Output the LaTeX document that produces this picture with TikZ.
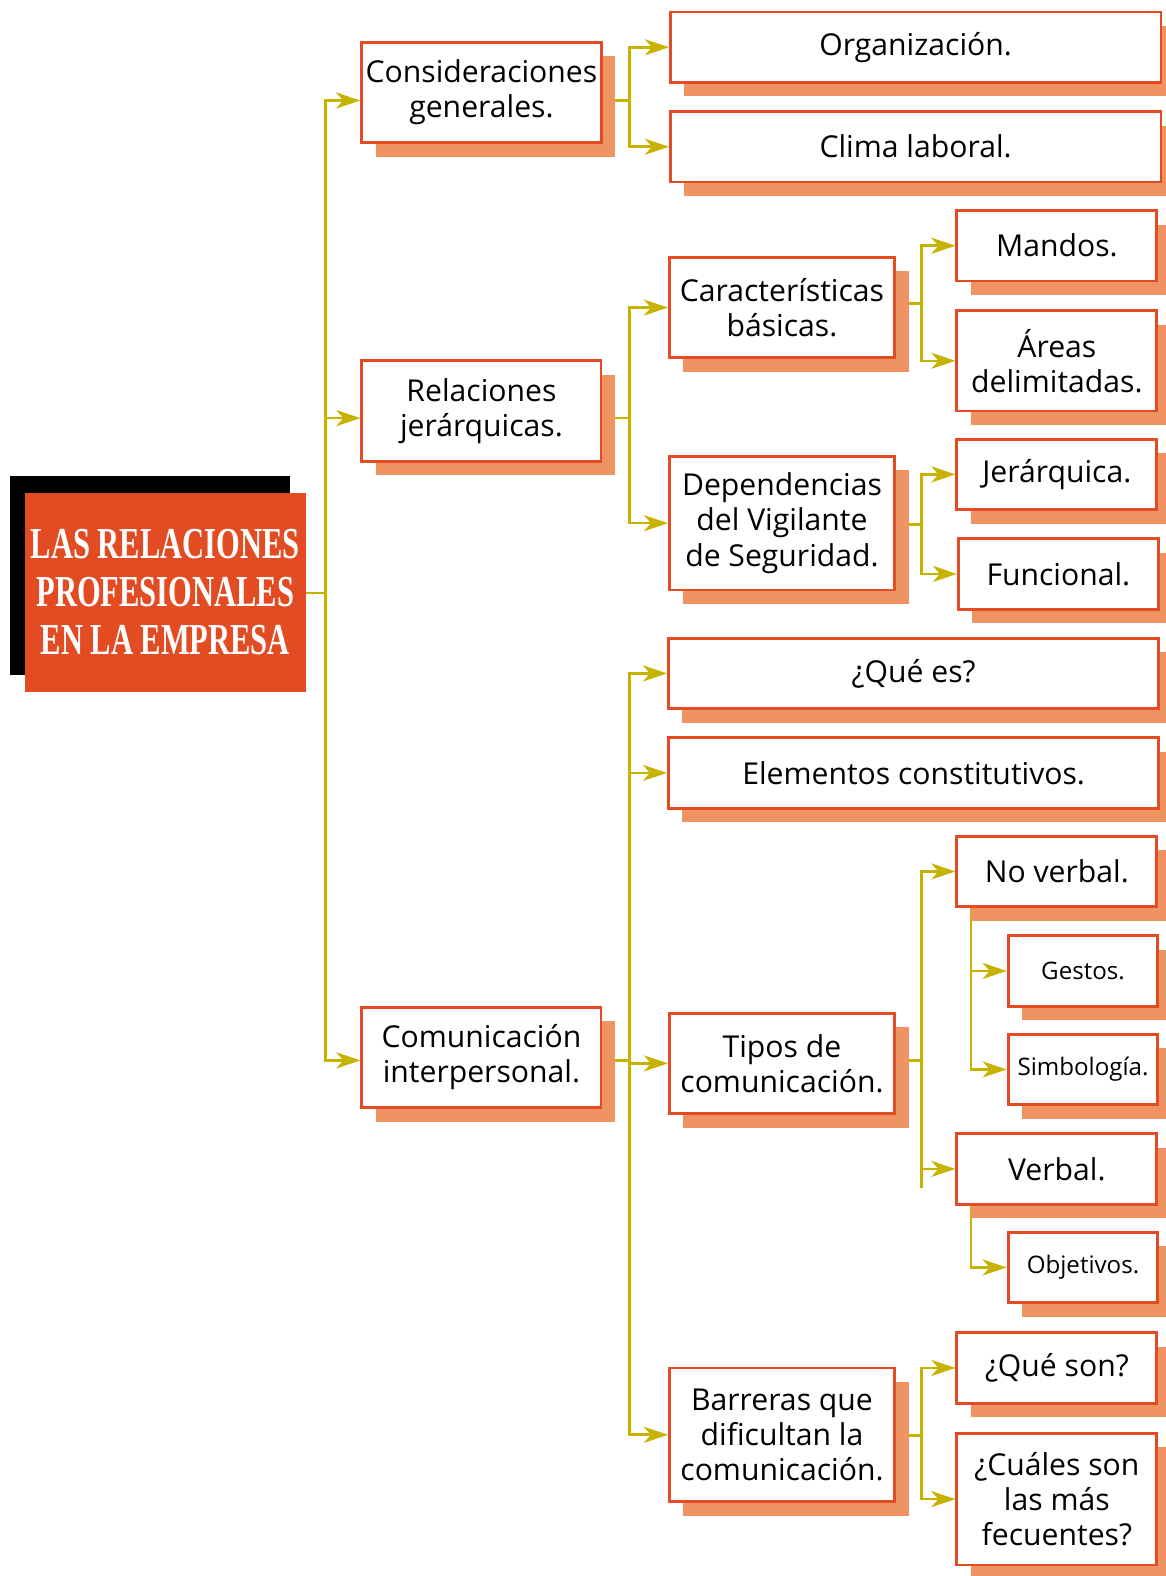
\documentclass[tikz,border=0pt]{standalone}
\usepackage{fontspec}
\setmainfont{Open Sans}
\newfontfamily\titlefont{Liberation Serif}[FakeStretch=0.69]
\usepackage{tikz}
\usetikzlibrary{arrows.meta,positioning,shadows,backgrounds}

\definecolor{boxred}{RGB}{227,75,35}
\definecolor{shade}{RGB}{240,147,99}
\definecolor{linkc}{RGB}{200,178,0}

\begin{document}
\begin{tikzpicture}[
x=0.5pt, y=-0.5pt,
box/.style={draw=boxred, line width=1.4pt, fill=white, align=center, inner sep=2pt,
  font=\fontsize{15}{17.5}\selectfont,
  drop shadow={shadow xshift=7pt, shadow yshift=-7pt, fill=shade, opacity=1}},
lone/.style={box, minimum width=119pt, minimum height=50pt},
wide/.style={box, minimum width=244pt, minimum height=35pt},
mid/.style={box, minimum width=112pt, minimum height=50pt},
leaf/.style={box, minimum width=99.5pt, minimum height=35pt},
sub/.style={box, minimum width=74.5pt, minimum height=35pt, font=\fontsize{12}{14}\selectfont},
link/.style={draw=linkc, line width=1.3pt},
arr/.style={link, -{Stealth[length=12pt, width=8pt, inset=3.5pt]}}
]
\useasboundingbox (0,0) rectangle (1160,1568);

% title
\node[fill=boxred, minimum width=139.5pt, minimum height=99pt, inner sep=0pt, align=center,
  text=white, font=\titlefont\bfseries\fontsize{22}{24}\selectfont,
  drop shadow={shadow xshift=-7.5pt, shadow yshift=8pt, fill=black, opacity=1}]
  (title) at (164.5,589) {LAS RELACIONES\\PROFESIONALES\\EN LA EMPRESA};

% first level
\node[lone] (cons) at (479,92) {Consideraciones\\generales.};
\node[lone] (rel) at (479,409) {Relaciones\\jerárquicas.};
\node[lone] (comm) at (479,1052) {Comunicación\\interpersonal.};

% second level
\node[wide] (org) at (911,47) {Organización.};
\node[wide] (clima) at (911,146) {Clima laboral.};
\node[mid] (carac) at (778,306) {Características\\básicas.};
\node[mid, minimum height=66.5pt] (dep) at (778,520.5) {Dependencias\\del Vigilante\\de Seguridad.};
\node[wide] (quees) at (909,670) {¿Qué es?};
\node[wide] (elem) at (909,769) {Elementos constitutivos.};
\node[mid] (tipos) at (778,1058) {Tipos de\\comunicación.};
\node[mid, minimum height=66.5pt] (barr) at (778,1427.5) {Barreras que\\dificultan la\\comunicación.};

% third level
\node[leaf] (mandos) at (1051.5,244.5) {Mandos.};
\node[leaf, minimum height=50pt] (areas) at (1051.5,359) {Áreas\\delimitadas.};
\node[leaf] (jer) at (1051.5,472) {Jerárquica.};
\node[leaf] (func) at (1053,571) {Funcional.};
\node[leaf] (noverb) at (1051.5,867) {No verbal.};
\node[leaf] (verbal) at (1051.5,1163) {Verbal.};
\node[leaf] (queson) at (1051.5,1361) {¿Qué son?};
\node[leaf, minimum height=65.5pt] (cuales) at (1051.5,1491.5) {¿Cuáles son\\las más\\fecuentes?};

% fourth level
\node[sub] (gestos) at (1077.5,966) {Gestos.};
\node[sub] (simb) at (1077.5,1064) {Simbología.};
\node[sub] (obj) at (1077.5,1261) {Objetivos.};

% junctions
\coordinate (j0) at (324,590);
\coordinate (j1) at (626,100);
\coordinate (j2) at (626,416);
\coordinate (j3) at (626,1055);
\coordinate (j4) at (917,302);
\coordinate (j5) at (917,522);
\coordinate (j6) at (917,1055);
\coordinate (j6end) at (917,1182);
\coordinate (j7) at (917,1428);
\coordinate (j8) at (966,900);
\coordinate (j9) at (966,1196);

\begin{scope}[on background layer]
\draw[link] (title.east |- j0) -- (j0);
\draw[arr] (j0) |- (cons.west |- j1);
\draw[arr] (j0) |- (rel.west |- j2);
\draw[arr] (j0) |- (comm.west |- j3);

\draw[link] (cons.east |- j1) -- (j1);
\draw[arr] (j1) |- (org.west);
\draw[arr] (j1) |- (clima.west);

\draw[link] (rel.east |- j2) -- (j2);
\draw[arr] (j2) |- (carac.west);
\draw[arr] (j2) |- (dep.west);

\draw[link] (comm.east |- j3) -- (j3);
\draw[arr] (j3) |- (quees.west);
\draw[arr] (j3) |- (elem.west);
\draw[arr] (j3) |- (tipos.west);
\draw[arr] (j3) |- (barr.west);

\draw[link] (carac.east |- j4) -- (j4);
\draw[arr] (j4) |- (mandos.west);
\draw[arr] (j4) |- (areas.west);

\draw[link] (dep.east |- j5) -- (j5);
\draw[arr] (j5) |- (jer.west);
\draw[arr] (j5) |- (func.west);

\draw[link] (tipos.east |- j6) -- (j6);
\draw[arr] (j6) |- (noverb.west);
\draw[arr] (j6) |- (verbal.west);
\draw[link] (j6) -- (j6end);

\draw[link] (barr.east |- j7) -- (j7);
\draw[arr] (j7) |- (queson.west);
\draw[arr] (j7) |- (cuales.west);

\draw[arr] (j8) |- (gestos.west);
\draw[arr] (j8) |- (simb.west);
\draw[arr] (j9) |- (obj.west);
\end{scope}
\end{tikzpicture}
\end{document}
